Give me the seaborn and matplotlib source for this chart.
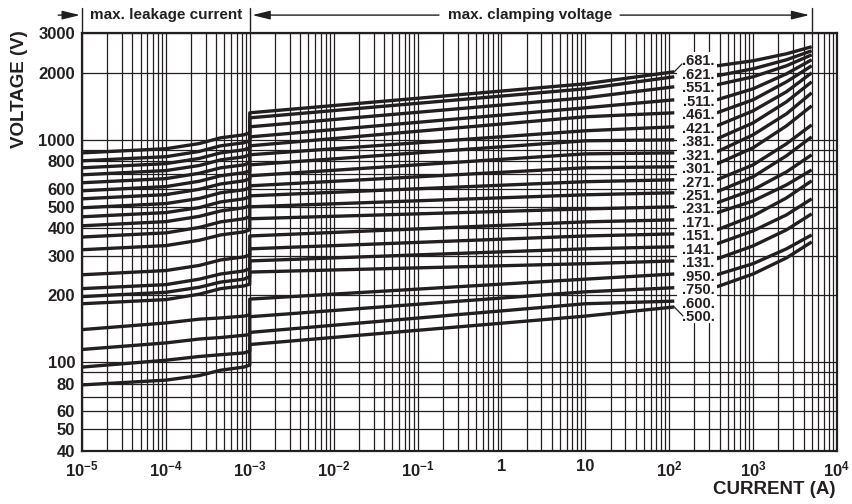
import matplotlib
matplotlib.use("Agg")
import matplotlib.pyplot as plt
from matplotlib.patches import Rectangle
from matplotlib.ticker import LogLocator, NullFormatter
import pandas as pd
import seaborn as sns

# part codes in the label column, top to bottom
parts = [".681.", ".621.", ".551.", ".511.", ".461.", ".421.", ".381.", ".321.", ".301.", ".271.",
         ".251.", ".231.", ".171.", ".151.", ".141.", ".131.", ".950.", ".750.", ".600.", ".500."]

# max. leakage current part (A / V)
leak_i = [1e-5, 1e-4, 2.5e-4, 4.5e-4, 8.5e-4, 1e-3]
leak_v = [
    [872, 910, 960, 1019, 1051, 1073],
    [803, 838, 885, 938, 968, 988],
    [747, 780, 823, 872, 900, 919],
    [695, 726, 765, 811, 837, 855],
    [640, 668, 706, 747, 770, 786],
    [589, 615, 650, 688, 710, 723],
    [542, 566, 598, 632, 653, 667],
    [494, 516, 544, 577, 595, 607],
    [450, 470, 495, 525, 542, 553],
    [410, 428, 452, 478, 494, 504],
    [365, 381, 403, 427, 441, 450],
    [320, 334, 353, 373, 385, 393],
    [247, 258, 272, 288, 297, 303],
    [214, 223, 236, 249, 257, 263],
    [197, 206, 217, 229, 236, 242],
    [183, 191, 202, 214, 220, 224],
    [140, 150, 156, 158, 161, 163],
    [114, 122, 127, 129, 132, 133],
    [95, 102, 106, 108, 110, 112],
    [79, 83, 87, 92, 95, 97],
]

# max. clamping voltage up to the label column
clamp_i = [1e-3, 10, 115]
clamp_v = [
    [1320, 1782, 2018],
    [1253, 1692, 1916],
    [1142, 1542, 1728],
    [1029, 1390, 1510],
    [938, 1267, 1320],
    [855, 1096, 1142],
    [770, 988, 998],
    [688, 863, 872],
    [620, 747, 755],
    [559, 647, 660],
    [499, 565, 577],
    [441, 488, 499],
    [369, 427, 436],
    [323, 369, 377],
    [285, 323, 330],
    [254, 277, 285],
    [192, 236, 249],
    [160, 207, 216],
    [136, 183, 188],
    [120, 161, 177],
]

# continuation right of the labels (first 18 parts only)
surge_i = [370, 1000, 2500, 5000]
surge_v = [
    [2147, 2261, 2431, 2615],
    [1936, 2081, 2285, 2508],
    [1764, 1916, 2147, 2406],
    [1510, 1692, 1976, 2285],
    [1320, 1510, 1819, 2147],
    [1153, 1347, 1641, 1997],
    [1008, 1189, 1479, 1819],
    [881, 1051, 1306, 1623],
    [778, 919, 1153, 1419],
    [660, 770, 958, 1165],
    [583, 681, 846, 1029],
    [520, 595, 716, 855],
    [469, 530, 626, 731],
    [393, 454, 547, 653],
    [340, 389, 459, 542],
    [291, 333, 393, 464],
    [247, 277, 323, 373],
    [218, 249, 294, 347],
]

x_ticks = [1e-5, 1e-4, 1e-3, 1e-2, 1e-1, 1, 10, 1e2, 1e3, 1e4]
x_ticklabels = [r"$10^{-5}$", r"$10^{-4}$", r"$10^{-3}$", r"$10^{-2}$", r"$10^{-1}$",
                "1", "10", r"$10^{2}$", r"$10^{3}$", r"$10^{4}$"]
y_ticks = [40, 50, 60, 80, 100, 200, 300, 400, 500, 600, 800, 1000, 2000, 3000]
y_minor = [70, 90, 700, 900]
region_edges = [1e-5, 1e-3, 5000]

INK = "#231f20"

rows = []
for k, part in enumerate(parts):
    for i, v in zip(leak_i + clamp_i, leak_v[k] + clamp_v[k]):
        rows.append((part + "low", i, v))
    if k < len(surge_v):
        for i, v in zip(surge_i, surge_v[k]):
            rows.append((part + "high", i, v))
df = pd.DataFrame(rows, columns=["unit", "current", "voltage"])

sns.set_theme(style="white")
plt.rcParams["font.family"] = ["Liberation Sans", "DejaVu Sans"]
plt.rcParams["font.weight"] = "bold"
plt.rcParams["mathtext.fontset"] = "custom"
plt.rcParams["mathtext.rm"] = "Liberation Sans:bold"
plt.rcParams["mathtext.bf"] = "Liberation Sans:bold"
plt.rcParams["mathtext.it"] = "Liberation Sans:bold:italic"
plt.rcParams["mathtext.default"] = "rm"

fig = plt.figure(figsize=(8.53, 5.04), dpi=100)
ax = fig.add_axes([0.0961, 0.1058, 0.8851, 0.8278])
ax.set_xscale("log")
ax.set_yscale("log")

sns.lineplot(data=df, x="current", y="voltage", units="unit", estimator=None, sort=False,
             color=INK, linewidth=2.4, legend=False, ax=ax, zorder=2,
             solid_capstyle="butt", solid_joinstyle="round")

ax.set_xlim(1e-5, 1e4)
ax.set_ylim(40, 3000)
ax.set_xticks(x_ticks)
ax.set_xticklabels(x_ticklabels)
ax.xaxis.set_minor_locator(LogLocator(base=10, subs=range(2, 10), numticks=100))
ax.xaxis.set_minor_formatter(NullFormatter())
ax.set_yticks(y_ticks)
ax.set_yticklabels([str(v) for v in y_ticks])
ax.set_yticks(y_minor, minor=True)
ax.yaxis.set_minor_formatter(NullFormatter())
ax.set_xlabel("")
ax.set_ylabel("")

ax.set_axisbelow(True)
ax.grid(True, which="both", color=INK, linewidth=0.9)
ax.tick_params(which="both", length=0, labelsize=12, labelcolor=INK)
ax.tick_params(axis="x", pad=6)
ax.tick_params(axis="y", pad=5)
for s in ax.spines.values():
    s.set_visible(True)
    s.set_color(INK)
    s.set_linewidth(1.6)

# white label column
ax.add_patch(Rectangle((0.788, 0.306), 0.053, 0.65, transform=ax.transAxes,
                       facecolor="white", edgecolor="none", zorder=2.5))
for k, part in enumerate(parts):
    ax.text(0.8166, (390.7 - 13.45 * k) / 417.2, part, transform=ax.transAxes,
            ha="center", va="center_baseline", fontsize=10.5, color=INK, zorder=3)

# leaders for the outer labels
lead = dict(arrowstyle="-", lw=0.9, color=INK, shrinkA=0, shrinkB=0)
ax.annotate("", xy=(0.7947, 0.927), xycoords="axes fraction",
            xytext=(clamp_i[-1], clamp_v[0][-1]), textcoords="data", arrowprops=lead, zorder=3)
ax.annotate("", xy=(0.796, 0.323), xycoords="axes fraction",
            xytext=(clamp_i[-1], clamp_v[-1][-1]), textcoords="data", arrowprops=lead, zorder=3)

# header with region arrows
tr = ax.get_xaxis_transform()
for xv in region_edges:
    ax.plot([xv, xv], [1.006, 1.061], transform=tr, clip_on=False, color=INK, lw=1)
head = dict(arrowstyle="-|>,head_length=0.9,head_width=0.22", lw=1, color=INK,
            shrinkA=0, shrinkB=0)
ax.annotate("", xy=(9.5e-6, 1.044), xycoords=tr, xytext=(5.2e-6, 1.044), textcoords=tr,
            arrowprops=head, annotation_clip=False)
ax.annotate("", xy=(1.07e-3, 1.044), xycoords=tr, xytext=(0.18, 1.044), textcoords=tr,
            arrowprops=head, annotation_clip=False)
ax.annotate("", xy=(4700, 1.044), xycoords=tr, xytext=(26, 1.044), textcoords=tr,
            arrowprops=head, annotation_clip=False)
ax.text(1e-4, 1.044, "max. leakage current", transform=tr, ha="center", va="center",
        fontsize=11, color=INK)
ax.text(2.2, 1.044, "max. clamping voltage", transform=tr, ha="center", va="center",
        fontsize=11, color=INK)

fig.text(0.0234, 0.9405, "VOLTAGE (V)", rotation=90, ha="center", va="top",
         fontsize=13.5, color=INK)
fig.text(0.980, 0.0278, "CURRENT (A)", ha="right", va="center", fontsize=13.5, color=INK)

fig.savefig("out.png", dpi=100)
